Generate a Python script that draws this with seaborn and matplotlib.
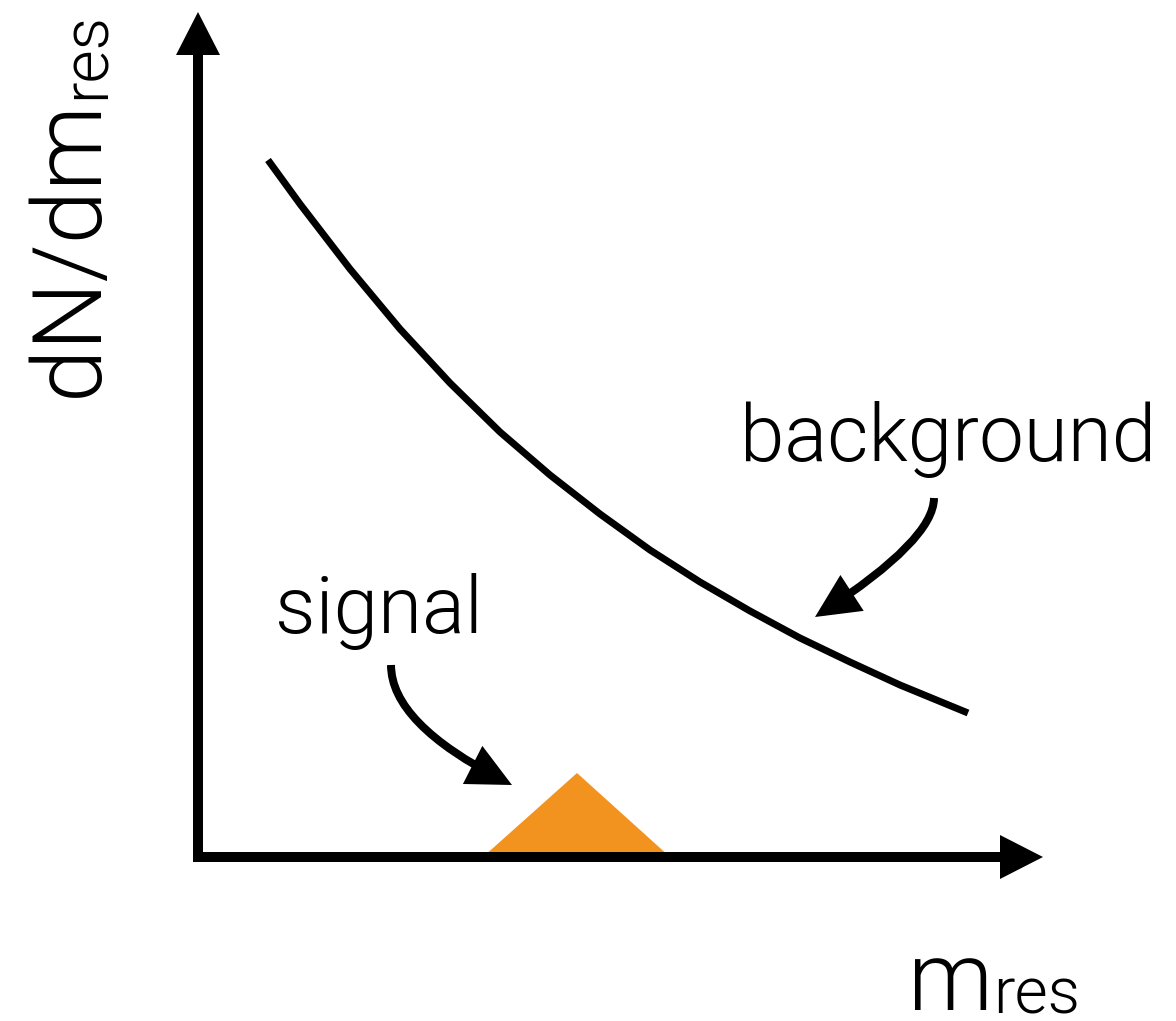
import matplotlib
matplotlib.use("Agg")
import matplotlib.pyplot as plt
from matplotlib import font_manager
from matplotlib.patches import FancyArrowPatch
import seaborn as sns

# Background spectrum: falling curve
bg_x = [0.70, 1.02, 1.52, 2.02, 2.52, 3.02, 3.52, 4.02, 4.52, 5.02,
        5.52, 6.02, 6.52, 7.02, 7.70]
bg_y = [6.97, 6.53, 5.88, 5.28, 4.74, 4.25, 3.82, 3.43, 3.07, 2.75,
        2.46, 2.19, 1.95, 1.72, 1.44]

# Signal peak: triangle sitting on the axis
sig_x = [2.85, 3.79, 4.72]
sig_y = [0.00, 0.84, 0.00]

axis_len = 8.45
y_label, y_sub = "dN/dm", "res"
x_label, x_sub = "m", "res"
bg_text = "background"
sig_text = "signal"

sns.set_theme(style="white")


def pick_light_family():
    """Return the first sans family that ships a light face, plus its weight."""
    prefs = ["Roboto", "Inter", "Open Sans", "Lato", "Noto Sans"]
    for fam in prefs:
        for f in font_manager.fontManager.ttflist:
            w = f.weight if isinstance(f.weight, int) else 400
            if f.name == fam and 250 <= w <= 350 and f.style == "normal":
                return fam, w
    return "Roboto", 400


FAMILY, FW = pick_light_family()
plt.rcParams["font.family"] = [FAMILY, "DejaVu Sans"]

DPI = 72
fig = plt.figure(figsize=(1176 / DPI, 1021 / DPI), dpi=DPI)
ax = fig.add_axes([0, 0, 1, 1])
ax.set_xlim(-1.98, 9.78)
ax.set_ylim(-1.64, 8.57)
ax.axis("off")

# signal triangle
ax.fill(sig_x, sig_y, color="#F3931F", lw=0, zorder=2)

# background curve
sns.lineplot(x=bg_x, y=bg_y, ax=ax, color="black", lw=7,
             solid_capstyle="butt", solid_joinstyle="round", zorder=3)

# axes with arrow heads
head_len = 0.43
ax.plot([0, 0], [0, axis_len - head_len + 0.02], color="black", lw=10,
        solid_capstyle="projecting", zorder=4)
ax.plot([0, axis_len - head_len + 0.02], [0, 0], color="black", lw=10,
        solid_capstyle="projecting", zorder=4)
for start, end in [((0, axis_len - 0.6), (0, axis_len)),
                   ((axis_len - 0.6, 0), (axis_len, 0))]:
    ax.add_patch(FancyArrowPatch(start, end,
                                 arrowstyle="-|>,head_length=43,head_width=22",
                                 mutation_scale=1, lw=0, color="black",
                                 shrinkA=0, shrinkB=0, zorder=5))

# curved pointer arrows
for start, end, ang_b in [((1.93, 1.92), (3.14, 0.72), -27),
                          ((7.36, 3.59), (6.17, 2.40), 33)]:
    ax.add_patch(FancyArrowPatch(start, end,
                                 connectionstyle=f"angle3,angleA=90,angleB={ang_b}",
                                 arrowstyle="-|>,head_length=31,head_width=15",
                                 mutation_scale=1, lw=8, color="black",
                                 shrinkA=0, shrinkB=0, joinstyle="miter",
                                 capstyle="butt", zorder=5))

# annotations
ax.text(5.42, 3.96, bg_text, fontsize=80, fontweight=FW,
        ha="left", va="baseline", color="black")
ax.text(0.77, 2.24, sig_text, fontsize=80, fontweight=FW,
        ha="left", va="baseline", color="black")

# axis labels with subscripts
xl = ax.text(7.10, -1.53, x_label, fontsize=96, fontweight=FW,
             ha="left", va="baseline", color="black")
ax.annotate(x_sub, xy=(1.0, -1.56), xycoords=(xl, "data"),
            fontsize=64, fontweight=FW, ha="left", va="baseline", color="black")

yl = ax.text(-1.01, 4.60, y_label, fontsize=96, fontweight=FW, rotation=90,
             rotation_mode="anchor", ha="left", va="baseline", color="black")
ax.annotate(y_sub, xy=(-0.93, 1.0), xycoords=("data", yl),
            fontsize=64, fontweight=FW, rotation=90, rotation_mode="anchor",
            ha="left", va="baseline", color="black")

fig.savefig("out.png", dpi=DPI, facecolor="white")
